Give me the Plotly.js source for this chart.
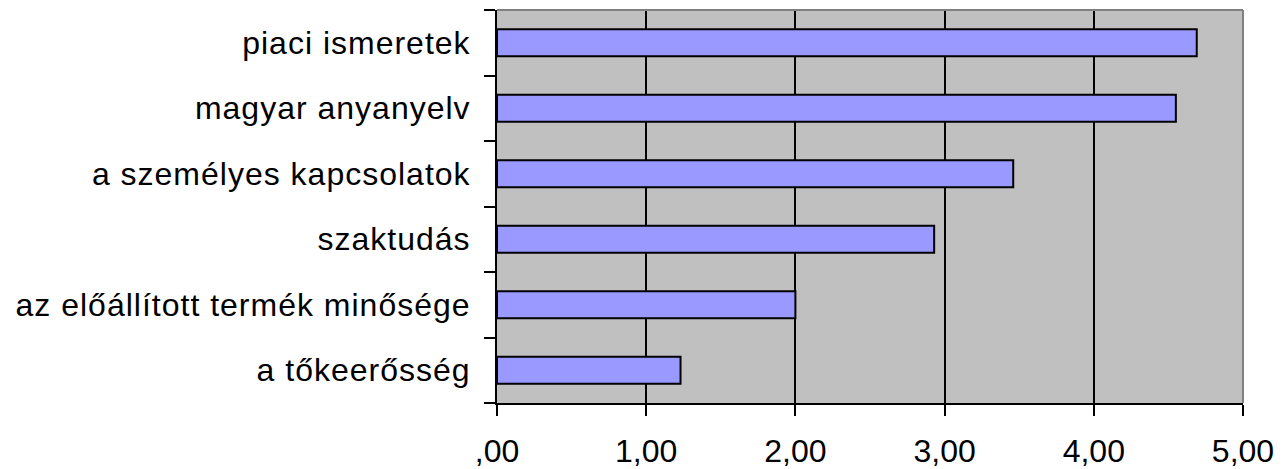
<!DOCTYPE html>
<html>
<head>
<meta charset="utf-8">
<script src="https://cdn.plot.ly/plotly-3.0.1.min.js"></script>
<style>
html, body { margin: 0; padding: 0; background: #ffffff; }
#chart { width: 1283px; height: 469px; }
.ytick text { letter-spacing: 1px; }
</style>
</head>
<body>
<div id="chart"></div>
<script>
// Categories listed bottom to top (Plotly draws the first category at the bottom)
const categories = [
  "a tőkeerősség",
  "az előállított termék minősége",
  "szaktudás",
  "a személyes kapcsolatok",
  "magyar anyanyelv",
  "piaci ismeretek"
];
const values = [1.23, 2.00, 2.93, 3.46, 4.55, 4.69];
const xTickValues = [0, 1, 2, 3, 4, 5];
const xTickLabels = [",00", "1,00", "2,00", "3,00", "4,00", "5,00"];

const trace = {
  type: "bar",
  orientation: "h",
  y: categories,
  x: values,
  marker: { color: "#9999ff", line: { color: "#000000", width: 2 } },
  hoverinfo: "x+y"
};

const layout = {
  width: 1283,
  height: 469,
  margin: { l: 497, r: 40, t: 10, b: 66, pad: 0 },
  paper_bgcolor: "#ffffff",
  plot_bgcolor: "#c0c0c0",
  bargap: 0.59,
  showlegend: false,
  font: { family: "Liberation Sans, Arial, sans-serif", size: 32, color: "#000000" },
  xaxis: {
    range: [0, 5],
    tickvals: xTickValues,
    ticktext: xTickLabels,
    showgrid: true,
    gridcolor: "#000000",
    gridwidth: 2,
    zeroline: false,
    showline: true,
    linecolor: "#000000",
    linewidth: 2,
    ticks: "outside",
    ticklen: 11,
    tickwidth: 2,
    tickcolor: "#000000",
    ticklabelstandoff: 8,
    fixedrange: true
  },
  yaxis: {
    type: "category",
    showgrid: false,
    zeroline: false,
    showline: true,
    linecolor: "#000000",
    linewidth: 2,
    ticks: "outside",
    tickson: "boundaries",
    ticklen: 11,
    tickwidth: 2,
    tickcolor: "#000000",
    ticklabelstandoff: 18,
    fixedrange: true
  },
  shapes: [
    { type: "line", xref: "paper", yref: "paper", x0: 0, x1: 1, y0: 1, y1: 1,
      line: { color: "#808080", width: 2 }, layer: "above" },
    { type: "line", xref: "paper", yref: "paper", x0: 1, x1: 1, y0: 0, y1: 1,
      line: { color: "#808080", width: 2 }, layer: "above" }
  ]
};

Plotly.newPlot("chart", [trace], layout, { displayModeBar: false, staticPlot: true });
</script>
</body>
</html>
